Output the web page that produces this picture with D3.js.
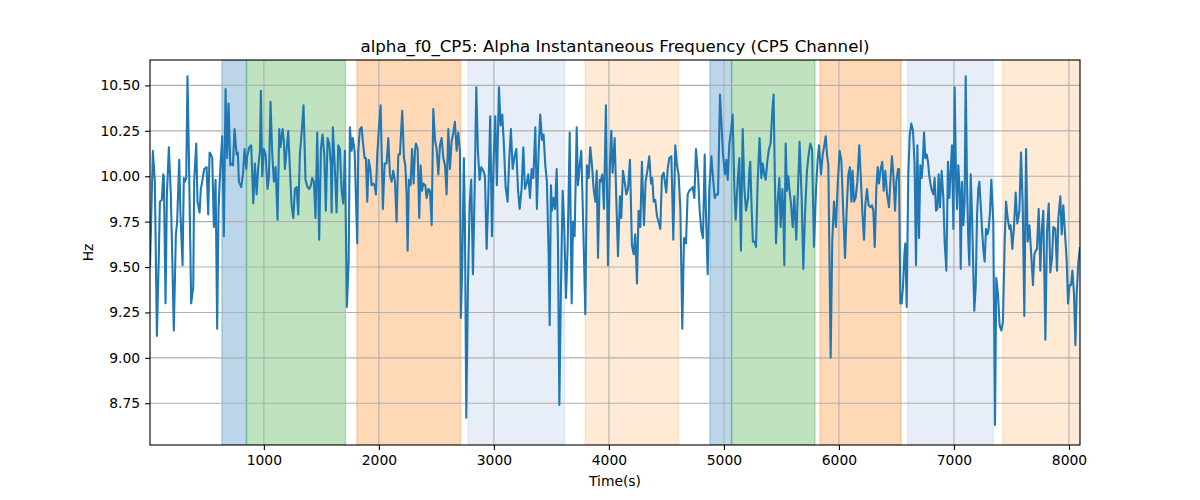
<!DOCTYPE html>
<html>
<head>
<meta charset="utf-8">
<script src="https://cdn.jsdelivr.net/npm/d3@7"></script>
<style>
  html, body { margin: 0; padding: 0; background: #ffffff; }
  svg text { font-family: "DejaVu Sans", sans-serif; fill: #000; }
</style>
</head>
<body>
<svg id="chart" width="1200" height="500"></svg>
<script>
// ---- data (seconds, Hz) ----
const times = [
10,35,52,70,87,96,113,125,130,145,157,174,191,209,217,235,246,264,275,293,
304,313,325,336,348,368,386,394,412,423,441,452,464,481,502,516,528,539,551,565,
580,594,606,621,638,652,667,681,693,708,722,731,745,763,774,783,803,818,832,847,
855,873,890,908,922,937,951,966,974,986,1000,1015,1032,1044,1058,1073,1087,1102,1119,1134,
1145,1163,1174,1183,1198,1212,1227,1241,1256,1270,1285,1299,
1313,1331,1345,1362,1380,1394,1409,1420,1435,1449,1464,1481,1496,1510,1525,1539,1554,1568,1583,1589,
1600,1618,1632,1647,1661,1676,1690,1705,1722,1737,1748,1763,1774,1789,1812,1821,1835,1850,1861,1876,
1887,1899,1911,1925,1937,1951,1963,1974,1986,2000,2015,2035,2050,2067,2082,2096,2111,2125,2140,2154,
2169,2183,2203,2218,2230,2241,2250,2261,2276,2288,2302,2314,2322,2337,2351,2363,2375,2386,2404,2415,
2430,2444,2459,2473,2488,2502,2517,2531,2546,2560,2575,2589,2604,
2618,2632,2647,2661,2676,2690,2705,2713,2725,2739,2748,2760,2774,2789,2803,2818,2832,2847,2861,2876,
2890,2908,2922,2937,2951,2968,2983,2997,3012,3026,3044,3058,3073,3087,3102,3119,3134,3148,3163,3177,
3195,3209,3224,3241,3256,3270,3285,3299,3314,3328,3343,3360,3374,3389,3403,3418,3432,3447,3461,3476,
3485,3496,3505,3517,3531,3546,3557,3569,3583,3598,3612,3627,3641,3659,3676,3688,3702,3720,3731,3746,
3760,3775,3795,3809,3824,3838,3853,3867,3882,3894,3905,3920,
3928,3942,3957,3974,3992,4009,4021,4032,4050,4064,4079,4096,4108,4122,4137,4151,4166,4183,4200,4215,
4229,4244,4258,4273,4287,4305,4319,4337,4351,4366,4377,4389,4403,4418,4432,4447,4461,4476,4499,4511,
4525,4543,4560,4577,4592,4606,4621,4638,4653,4670,4685,4699,4714,4728,4743,4757,4775,4789,4804,4818,
4833,4844,4859,4873,4891,4905,4920,4934,4949,4966,4978,4992,5009,5021,5033,5047,5062,5076,5091,5102,
5120,5134,5148,5163,5178,5192,5210,5221,
5229,5241,5252,5267,5279,5293,5310,5325,5337,5351,5363,5377,5392,5406,5421,5432,5444,5453,5467,5482,
5493,5508,5516,5525,5537,5548,5560,5569,5583,5598,5612,5629,5644,5658,5676,5690,5705,5722,5737,5751,
5766,5783,5801,5815,5827,5844,5859,5873,5885,5896,5908,
5928,5942,5957,5974,5989,6006,6021,6038,6053,6067,6082,6096,6108,6119,6131,6145,6160,6177,6192,6203,
6218,6229,6244,6258,6273,6287,6299,6311,6325,6337,6348,6363,6377,6389,6403,6418,6435,6450,6461,6473,
6488,6499,6514,6522,6534,6545,6557,6569,6577,6589,6603,6615,
6629,6644,6658,6670,6682,6696,6708,6719,6728,6740,6751,6763,6774,6786,6798,6809,6821,6832,6844,6856,
6867,6879,6893,6908,6919,6934,6948,6960,6972,6983,6995,7006,7018,7027,7038,7050,7059,7070,7082,7093,
7102,7114,7125,7134,7146,7157,7169,7177,7189,7201,7212,7221,7233,7244,7256,7267,7279,7291,7302,7314,
7325,7342,
7357,7368,7383,7397,7412,7426,7441,7453,7467,7482,7493,7508,7522,7537,7551,7569,7583,7598,7612,7627,
7641,7656,7670,7687,7699,7711,7722,7737,7751,7763,7777,7795,7809,7824,7838,7853,7864,7882,7896,7908,
7925,7937,7951,7966,7980,7992,8004,8018,8030,8044,8056,8067,8082,8096
];
const values = [
9.50,10.14,9.97,9.12,9.57,9.86,9.87,10.01,10.00,9.30,9.90,10.16,9.90,9.39,9.15,9.68,9.75,10.09,9.79,9.51,
9.99,9.97,9.99,10.55,10.12,9.30,9.39,9.97,10.18,9.86,9.80,9.93,9.97,10.04,10.05,9.79,10.13,10.12,10.10,9.72,
9.98,9.16,9.82,10.04,10.22,9.67,10.48,10.10,10.40,10.06,10.07,10.06,10.26,10.12,10.13,9.97,9.94,10.01,10.15,10.04,
10.11,10.16,10.17,9.85,10.07,9.90,10.05,10.14,10.47,10.00,10.15,10.12,9.93,10.00,10.41,10.12,9.97,10.05,9.76,10.26,
10.16,10.26,10.19,10.04,10.15,10.25,10.03,9.84,9.77,9.93,9.94,9.79,
10.12,10.26,10.39,9.98,9.94,9.93,9.95,9.99,9.97,9.77,10.24,9.65,10.15,10.23,10.12,9.81,10.21,10.18,10.06,9.80,
10.27,10.03,9.80,10.17,10.15,9.92,9.85,10.14,9.28,9.53,10.27,10.14,10.21,10.14,9.63,10.14,10.26,10.27,10.19,10.10,
10.10,9.86,10.09,10.04,9.95,9.96,9.95,9.90,10.12,10.26,10.39,9.82,10.07,10.07,10.21,10.01,9.97,10.03,9.97,9.75,
10.12,10.12,10.36,10.10,10.06,9.90,9.59,9.98,9.95,10.15,9.96,10.14,10.18,10.15,9.77,10.06,9.92,9.96,9.95,9.88,
9.93,9.92,9.73,10.37,10.20,10.15,10.01,10.17,10.21,10.10,10.06,9.90,10.26,
10.04,10.19,10.24,10.30,10.14,10.24,10.14,9.22,9.50,10.10,9.75,8.67,9.39,9.84,9.98,9.46,9.90,10.49,10.14,9.98,
10.05,10.03,10.00,9.60,9.88,10.33,9.67,10.08,10.33,9.95,10.49,10.28,10.34,10.17,9.94,9.86,10.10,10.26,10.04,10.10,
10.15,9.93,9.82,9.93,10.16,9.93,9.96,10.01,9.88,10.04,9.99,10.27,9.82,10.14,10.34,10.20,10.23,10.06,9.97,9.57,
9.18,9.95,9.81,9.88,9.82,10.04,9.64,8.74,9.39,9.92,9.71,9.33,9.60,10.24,9.30,9.75,9.67,10.27,9.95,10.06,
10.14,9.77,9.24,10.06,9.99,10.16,10.06,9.93,9.86,10.03,9.55,9.98,
9.97,10.01,9.82,10.39,9.51,10.06,10.25,10.02,10.21,9.88,9.56,9.89,9.77,10.03,9.97,9.90,9.93,10.09,9.62,9.57,
9.68,9.41,9.81,9.72,10.08,9.73,9.97,10.04,10.11,9.96,9.99,9.86,9.87,9.78,9.75,9.71,10.00,10.02,9.91,10.04,
10.10,10.11,9.65,10.17,10.06,10.01,9.82,9.16,9.66,9.63,9.90,9.92,9.93,9.94,9.88,10.15,10.01,9.81,9.70,9.66,
10.12,9.79,9.46,9.93,10.11,9.99,9.88,9.90,9.90,10.45,10.30,10.12,10.01,10.09,9.98,10.18,10.25,10.34,9.93,9.76,
9.98,10.10,9.59,10.26,9.93,9.81,9.88,10.03,
10.08,9.82,9.64,9.64,9.61,9.96,10.21,9.99,10.07,10.01,9.98,10.08,10.15,10.18,10.36,10.45,9.94,9.63,9.86,9.99,
9.72,9.93,9.81,9.51,10.18,9.92,10.00,9.93,9.85,9.72,9.89,9.65,9.93,10.19,9.88,9.49,9.79,10.03,10.12,10.18,
10.15,9.61,9.93,10.09,10.17,10.01,10.12,10.17,10.22,10.12,10.06,
9.00,9.64,9.86,9.72,9.95,10.14,10.09,9.79,9.55,9.81,10.01,10.05,9.86,10.03,9.86,9.88,9.97,10.17,9.97,9.81,
9.65,9.84,9.93,9.84,9.83,9.84,9.81,9.61,9.93,10.05,9.96,10.04,10.08,9.92,10.03,9.90,9.83,10.00,10.11,10.01,
9.81,9.97,10.04,10.04,9.30,9.30,9.39,9.57,9.63,9.28,10.01,10.22,
10.29,10.25,10.06,9.51,10.17,9.66,10.06,9.99,10.06,10.24,10.10,10.12,10.08,10.00,9.95,9.92,9.90,9.99,9.81,9.82,
10.01,9.83,10.03,9.88,9.64,9.48,10.08,9.88,10.03,10.17,9.71,10.49,9.99,9.82,10.06,9.92,9.49,9.97,9.73,9.86,
10.55,9.95,9.64,9.51,10.01,9.79,9.46,9.26,9.39,9.79,9.93,9.97,9.84,9.71,9.59,9.53,9.71,9.68,9.71,9.81,
9.98,9.75,
8.63,9.44,9.35,9.18,9.15,9.20,9.64,9.86,9.77,9.71,9.73,9.60,9.72,9.91,9.74,9.81,10.13,9.84,9.23,10.15,
9.64,9.73,9.59,9.40,9.57,9.59,9.60,9.82,9.48,9.70,9.81,9.10,9.69,9.85,9.47,9.55,9.72,9.71,9.48,9.77,
9.89,9.68,9.84,9.68,9.54,9.30,9.40,9.40,9.48,9.35,9.07,9.35,9.53,9.61
];

// shaded periods
const bandStarts = [635, 849, 1809, 2777, 3794, 4878, 5067, 5835, 6598, 7424];
const bandEnds   = [849, 1710, 2710, 3615, 4606, 5067, 5792, 6540, 7342, 8096];
const bandColors = ["#1f77b4", "#2ca02c", "#ff7f0e", "#aec7e8", "#ffbb78",
                    "#1f77b4", "#2ca02c", "#ff7f0e", "#aec7e8", "#ffbb78"];

const xTicks = [1000, 2000, 3000, 4000, 5000, 6000, 7000, 8000];
const yTicks = [8.75, 9.00, 9.25, 9.50, 9.75, 10.00, 10.25, 10.50];
const titleText = "alpha_f0_CP5: Alpha Instantaneous Frequency (CP5 Channel)";
const xLabel = "Time(s)";
const yLabel = "Hz";

// ---- layout ----
const L = 150, R = 1080, T = 60, B = 445;
const svg = d3.select("#chart");

const x = d3.scaleLinear().domain([times[0], times[times.length - 1]]).range([L, R]);
const y = d3.scaleLinear().domain([8.52, 10.64]).range([B, T]);

svg.append("defs").append("clipPath").attr("id", "clip")
  .append("rect").attr("x", L).attr("y", T).attr("width", R - L).attr("height", B - T);

// bands
const bands = bandStarts.map((s, i) => ({ s, e: bandEnds[i], c: bandColors[i] }));
svg.append("g").attr("clip-path", "url(#clip)")
  .selectAll("rect").data(bands).join("rect")
  .attr("x", d => x(d.s))
  .attr("width", d => x(d.e) - x(d.s))
  .attr("y", T).attr("height", B - T)
  .attr("fill", d => d.c).attr("fill-opacity", 0.3)
  .attr("stroke", d => d.c).attr("stroke-opacity", 0.3).attr("stroke-width", 1.39);

// grid
const grid = svg.append("g");
grid.selectAll("line.gx").data(xTicks).join("line")
  .attr("x1", d => x(d)).attr("x2", d => x(d))
  .attr("y1", T).attr("y2", B)
  .attr("stroke", "#b0b0b0").attr("stroke-width", 1.1);
grid.selectAll("line.gy").data(yTicks).join("line")
  .attr("x1", L).attr("x2", R)
  .attr("y1", d => y(d)).attr("y2", d => y(d))
  .attr("stroke", "#b0b0b0").attr("stroke-width", 1.1);

// line
const pts = times.map((t, i) => [t, values[i]]);
svg.append("path").datum(pts)
  .attr("clip-path", "url(#clip)")
  .attr("fill", "none")
  .attr("stroke", "#1f77b4")
  .attr("stroke-width", 2.08)
  .attr("stroke-linejoin", "round")
  .attr("d", d3.line().x(d => x(d[0])).y(d => y(d[1])));

// axes
const xAxis = d3.axisBottom(x).tickValues(xTicks).tickFormat(d3.format("d"))
  .tickSize(4.9).tickPadding(4.9);
const yAxis = d3.axisLeft(y).tickValues(yTicks).tickFormat(d3.format(".2f"))
  .tickSize(4.9).tickPadding(4.9);

const gx = svg.append("g").attr("transform", `translate(0,${B})`).call(xAxis);
const gy = svg.append("g").attr("transform", `translate(${L},0)`).call(yAxis);
[gx, gy].forEach(g => {
  g.select(".domain").remove();
  g.selectAll(".tick line").attr("stroke", "#000").attr("stroke-width", 1.1);
  g.selectAll(".tick text").attr("font-family", "DejaVu Sans, sans-serif")
    .attr("font-size", "13.89px").attr("fill", "#000");
});

// frame
svg.append("rect").attr("x", L).attr("y", T).attr("width", R - L).attr("height", B - T)
  .attr("fill", "none").attr("stroke", "#000").attr("stroke-width", 1.1);

// labels
svg.append("text").attr("x", (L + R) / 2).attr("y", 52)
  .attr("text-anchor", "middle").attr("font-size", "16.67px").text(titleText);
svg.append("text").attr("x", (L + R) / 2).attr("y", 486)
  .attr("text-anchor", "middle").attr("font-size", "13.89px").text(xLabel);
svg.append("text").attr("transform", `translate(93,${(T + B) / 2}) rotate(-90)`)
  .attr("text-anchor", "middle").attr("font-size", "13.89px").text(yLabel);
</script>
</body>
</html>
